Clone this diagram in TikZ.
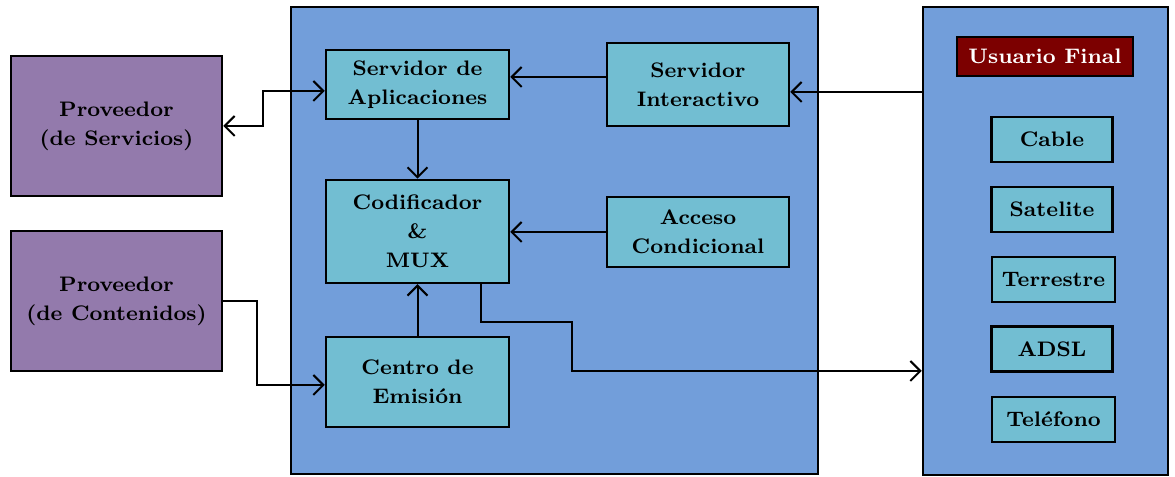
\documentclass[tikz,border=0pt]{standalone}
\usepackage{tikz}
\usetikzlibrary{arrows.meta,calc,positioning}
\definecolor{Morado}{RGB}{147,122,172}
\definecolor{AzulFondo}{RGB}{114,158,218}
\definecolor{Celeste}{RGB}{114,190,210}
\definecolor{Granate}{RGB}{124,0,0}
\newcommand{\letra}{\fontsize{8.4}{11.6}\selectfont\bfseries}
\tikzstyle{prov} = [rectangle, draw=black, line width=1pt, fill=Morado, minimum width=84.4pt, minimum height=56pt, align=center, font=\letra]
\tikzstyle{bloque} = [rectangle, draw=black, line width=1pt, fill=AzulFondo, inner sep=0pt]
\tikzstyle{caja} = [rectangle, draw=black, line width=1pt, fill=Celeste, minimum width=73.2pt, align=center, font=\letra, inner sep=1pt]
\tikzstyle{canal} = [rectangle, draw=black, line width=1pt, fill=Celeste, minimum width=48.4pt, minimum height=18pt, font=\letra, inner sep=1pt]
\tikzstyle{titulo} = [rectangle, draw=black, line width=1pt, fill=Granate, text=white, minimum width=70.4pt, minimum height=15.6pt, font=\letra, inner sep=1pt]
\tikzstyle{flecha} = [line width=0.8pt, -{Straight Barb[length=4pt,width=8pt]}]

\begin{document}
\begin{tikzpicture}[x=0.4pt, y=-0.4pt]
\useasboundingbox (0,0) rectangle (1175,477);
% bloques de fondo
\node[bloque, minimum width=210.8pt, minimum height=186.8pt] (cab) at (554.5,240.5) {};
\node[bloque, minimum width=98pt, minimum height=187.2pt] (usr) at (1045.5,241) {};
% proveedores
\node[prov] (ps) at (116.5,126) {Proveedor\\(de Servicios)};
\node[prov] (pc) at (116.5,301) {Proveedor\\(de Contenidos)};
% cabecera
\node[caja, minimum height=27.6pt] (sa) at (417.5,84.5) {Servidor de\\Aplicaciones};
\node[caja, minimum width=72.8pt, minimum height=33.2pt] (si) at (698,84.5) {Servidor\\Interactivo};
\node[caja, minimum height=41.2pt] (cod) at (417.5,231.5) {Codificador\\\&\\MUX};
\node[caja, minimum width=72.8pt, minimum height=28pt] (ac) at (698,232) {Acceso\\Condicional};
\node[caja, minimum height=36pt] (ce) at (417.5,382) {Centro de\\Emisi\'on};
% usuario final
\node[titulo] (uf) at (1045,56.5) {Usuario Final};
\node[canal] (c1) at (1052,139.5) {Cable};
\node[canal] (c2) at (1052,209.5) {Satelite};
\node[canal, minimum width=49.2pt] (c3) at (1053.5,279.5) {Terrestre};
\node[canal] (c4) at (1052,349) {ADSL};
\node[canal, minimum width=49.2pt] (c5) at (1053.5,419.5) {Tel\'efono};
% conexiones
\coordinate (k1) at (263,91);
\coordinate (k2) at (257,385);
\coordinate (k3) at ([yshift=-3pt]si.east);
\coordinate (k4) at (481,322);
\coordinate (k5) at (572,371);
\path[draw, flecha, {Straight Barb[length=4pt,width=8pt]}-{Straight Barb[length=4pt,width=8pt]}] (ps.east) -| (k1) -- (k1 -| sa.west);
\path[draw, flecha] (pc.east) -| (k2) -- (k2 -| ce.west);
\path[draw, flecha] ([yshift=3pt]si.west) -- ([yshift=3pt]sa.east);
\path[draw, flecha] (k3 -| usr.west) -- (k3);
\path[draw, flecha] (sa.south) -- (cod.north);
\path[draw, flecha] (ce.north) -- (cod.south);
\path[draw, flecha] (ac.west) -- (ac.west -| cod.east);
\path[draw, flecha] (k4 |- cod.south) -- (k4) -| (k5) -- (k5 -| usr.west);
\end{tikzpicture}
\end{document}
